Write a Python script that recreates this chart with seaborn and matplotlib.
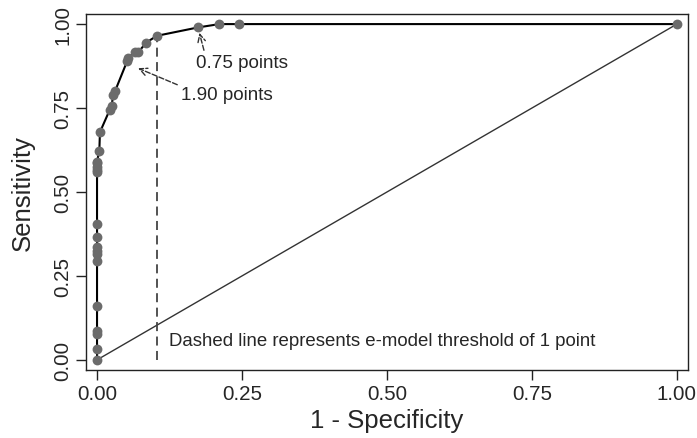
import matplotlib
matplotlib.use("Agg")
import matplotlib.pyplot as plt
import seaborn as sns

# curva ROC (1 - especificidade, sensibilidade)
fpr = [0, 0, 0, 0, 0, 0, 0, 0, 0, 0, 0, 0, 0, 0, 0, 0,
       0.004, 0.005, 0.022, 0.025, 0.028, 0.031, 0.052, 0.054,
       0.065, 0.071, 0.085, 0.103, 0.174, 0.211, 0.244, 1.0]
sens = [0, 0.033, 0.077, 0.086, 0.161, 0.295, 0.315, 0.324,
        0.336, 0.366, 0.405, 0.56, 0.565, 0.575, 0.585, 0.59,
        0.623, 0.678, 0.745, 0.755, 0.79, 0.80, 0.89, 0.90,
        0.916, 0.916, 0.945, 0.965, 0.99, 1.0, 1.0, 1.0]

ticks = [0.0, 0.25, 0.5, 0.75, 1.0]
tick_labels = ["0.00", "0.25", "0.50", "0.75", "1.00"]

limiar_x, limiar_y = 0.103, 0.965   # corte de 1 ponto

sns.set_style("ticks")
plt.rcParams["font.family"] = ["Liberation Sans", "DejaVu Sans"]

fig = plt.figure(figsize=(6.97, 4.39), dpi=100)
ax = fig.add_axes([0.1234, 0.155, 0.8636, 0.8108])

# linha de referencia (diagonal)
ax.plot([0, 1], [0, 1], color="#333333", lw=1.0)

sns.lineplot(x=fpr, y=sens, sort=False, estimator=None, color="black",
             lw=1.5, ax=ax)
sns.scatterplot(x=fpr, y=sens, color="#6b6b6b", s=50, edgecolor="#6b6b6b",
                linewidth=0, zorder=3, ax=ax)

ax.vlines(limiar_x, 0, limiar_y, colors="#444444", lw=1.3,
          linestyles=(0, (5, 3)))

seta = dict(arrowstyle="->", linestyle="--", color="#333333", lw=1.0,
            shrinkA=0, shrinkB=4)
ax.annotate("0.75 points", xy=(0.174, 0.99), xytext=(0.17, 0.887),
            fontsize=13.6, va="center", ha="left",
            arrowprops=dict(seta, relpos=(0.1, 1.0)))
ax.annotate("1.90 points", xy=(0.062, 0.875), xytext=(0.144, 0.79),
            fontsize=13.6, va="center", ha="left",
            arrowprops=dict(seta, relpos=(0.0, 1.0)))
ax.text(0.124, 0.057, "Dashed line represents e-model threshold of 1 point",
        fontsize=13.4, va="center", ha="left")

ax.set_xlim(-0.019, 1.019)
ax.set_ylim(-0.03, 1.03)
ax.set_xticks(ticks, tick_labels)
ax.set_yticks(ticks, tick_labels)
ax.tick_params(axis="both", labelsize=14.8, length=7, width=1.0,
               color="#222222", pad=3)
ax.tick_params(axis="y", labelrotation=90)
plt.setp(ax.get_yticklabels(), va="center")
for s in ax.spines.values():
    s.set_linewidth(1.0)
    s.set_color("#222222")

ax.set_xlabel("1 - Specificity", fontsize=18.5, labelpad=4)
ax.set_ylabel("Sensitivity", fontsize=18.5, labelpad=13)

fig.savefig("out.png", dpi=100)
plt.close(fig)
